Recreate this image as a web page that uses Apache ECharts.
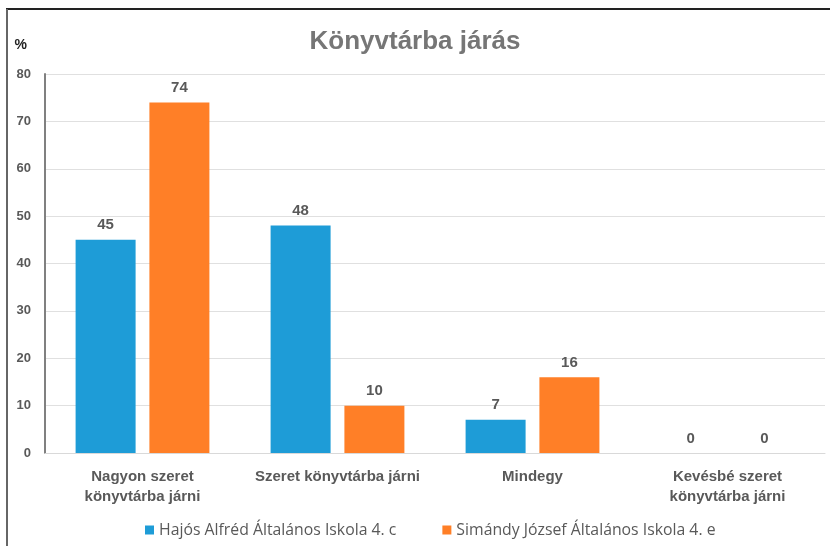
<!DOCTYPE html>
<html>
<head>
<meta charset="utf-8">
<script src="https://cdn.jsdelivr.net/npm/echarts@6/dist/echarts.min.js"></script>
<style>
html, body { margin: 0; padding: 0; background: #fff; }
#chart { width: 830px; height: 546px; }
</style>
</head>
<body>
<div id="chart"></div>
<script>
// adatok
var categories = ['Nagyon szeret\nkönyvtárba járni', 'Szeret könyvtárba járni', 'Mindegy', 'Kevésbé szeret\nkönyvtárba járni'];
var hajos = [45, 48, 7, 0];
var simandy = [74, 10, 16, 0];
var seriesNames = ['Hajós Alfréd Általános Iskola 4. c', 'Simándy József Általános Iskola 4. e'];

var labelColor = '#595959';
var boldFont = '"Liberation Sans", sans-serif';

var chart = echarts.init(document.getElementById('chart'));
option = {
    title: {
        text: 'Könyvtárba járás',
        left: 'center',
        top: 24,
        textStyle: {
            fontSize: 26,
            fontWeight: 'bold',
            color: '#767676',
            fontFamily: boldFont
        }
    },
    legend: {
        bottom: 3,
        left: 140,
        itemWidth: 9,
        itemHeight: 9,
        itemGap: 46,
        icon: 'rect',
        textStyle: {
            fontSize: 15.8,
            color: labelColor,
            fontFamily: '"Open Sans", sans-serif'
        },
        data: seriesNames
    },
    grid: {
        left: 45,
        right: 5,
        top: 74,
        bottom: 93,
        containLabel: false
    },
    xAxis: {
        type: 'category',
        data: categories,
        axisTick: { show: false },
        axisLine: { lineStyle: { color: '#d9d9d9', width: 1 } },
        axisLabel: {
            interval: 0,
            margin: 14,
            fontSize: 15,
            lineHeight: 20,
            fontWeight: 'bold',
            color: labelColor,
            fontFamily: boldFont
        }
    },
    yAxis: {
        type: 'value',
        name: '%',
        nameLocation: 'end',
        nameGap: 22,
        nameTextStyle: {
            fontSize: 14,
            fontWeight: 'bold',
            color: '#222',
            fontFamily: boldFont,
            align: 'right',
            padding: [0, 18, 0, 0]
        },
        min: 0,
        max: 80,
        interval: 10,
        axisLine: { show: true, lineStyle: { color: '#808080', width: 2 } },
        axisTick: { show: false },
        splitLine: { lineStyle: { color: '#e0e0e0', width: 1 } },
        axisLabel: {
            margin: 14,
            fontSize: 13,
            fontWeight: 'bold',
            color: labelColor,
            fontFamily: boldFont
        }
    },
    series: [
        {
            name: seriesNames[0],
            type: 'bar',
            data: hajos,
            barWidth: 60,
            barGap: '23%',
            itemStyle: { color: '#1e9cd7' },
            label: {
                show: true,
                position: 'top',
                distance: 7,
                fontSize: 15,
                fontWeight: 'bold',
                color: labelColor,
                fontFamily: boldFont
            }
        },
        {
            name: seriesNames[1],
            type: 'bar',
            data: simandy,
            barWidth: 60,
            barGap: '23%',
            itemStyle: { color: '#ff7f27' },
            label: {
                show: true,
                position: 'top',
                distance: 7,
                fontSize: 15,
                fontWeight: 'bold',
                color: labelColor,
                fontFamily: boldFont
            }
        }
    ],
    graphic: [
        { type: 'line', shape: { x1: 6, y1: 9, x2: 830, y2: 9 }, style: { stroke: '#222', lineWidth: 2 } },
        { type: 'line', shape: { x1: 7, y1: 9, x2: 7, y2: 546 }, style: { stroke: '#666', lineWidth: 2 } }
    ]
};
chart.setOption(option);
</script>
</body>
</html>
